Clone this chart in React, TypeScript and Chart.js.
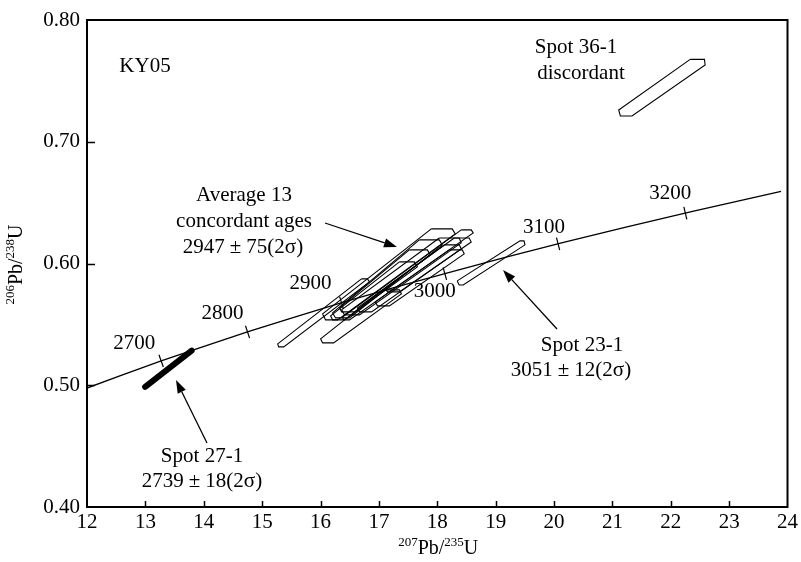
import React, { useEffect, useRef } from "react";
import { Chart, registerables } from "chart.js";

Chart.register(...registerables);

// ---- Data ----
// Concordia curve (207Pb/235U, 206Pb/238U)
const concordiaX = [12.0, 12.597, 13.283, 14.005, 14.761, 15.557, 16.393, 17.271, 18.194, 19.163, 20.181, 21.25, 22.373, 23.89];
const concordiaY = [0.4977, 0.5084, 0.5202, 0.532, 0.544, 0.556, 0.5682, 0.5803, 0.5926, 0.605, 0.6175, 0.6301, 0.6428, 0.6592];

// Age marks on the concordia
const ageLabels = ["2700", "2800", "2900", "3000", "3100", "3200"];
const ageTickX = [13.27, 14.75, 16.36, 18.13, 20.07, 22.25];
const ageTickY = [0.52, 0.5438, 0.5677, 0.5917, 0.6161, 0.6414];

// Error ellipses (outline vertices, x = 207Pb/235U, y = 206Pb/238U)
const spot36 = [[22.333, 0.7677], [22.577, 0.7677], [22.589, 0.7631], [21.336, 0.7212], [21.137, 0.7212], [21.108, 0.7261]];
const spot23 = [[18.342, 0.5857], [18.376, 0.5824], [18.444, 0.5824], [19.503, 0.6153], [19.486, 0.6186], [19.418, 0.6186]];
const spot27 = [[12.996, 0.4987], [13.793, 0.5285]];

const cluster1 = [[17.898, 0.6284], [18.257, 0.6284], [18.308, 0.6243], [16.292, 0.5537], [16.087, 0.5537], [16.036, 0.5586]];
const cluster2 = [[18.411, 0.6276], [18.582, 0.6276], [18.616, 0.6251], [16.497, 0.5537], [16.395, 0.5537], [16.378, 0.5561]];
const cluster3 = [[17.061, 0.5783], [17.352, 0.5783], [17.386, 0.575], [16.224, 0.5348], [16.036, 0.5348], [16.002, 0.5381]];
const cluster4 = [[16.702, 0.5874], [16.805, 0.5874], [16.839, 0.5849], [15.37, 0.5315], [15.284, 0.5315], [15.267, 0.534]];
const cluster5 = [[17.693, 0.6194], [18.035, 0.6194], [18.086, 0.6153], [16.497, 0.5553], [16.258, 0.5553], [16.207, 0.5594]];
const cluster6 = [[18.035, 0.621], [18.377, 0.621], [18.411, 0.6169], [16.668, 0.5578], [16.412, 0.5578], [16.361, 0.5619]];
const cluster7 = [[17.352, 0.6013], [17.607, 0.6013], [17.659, 0.5972], [16.412, 0.5537], [16.207, 0.5537], [16.173, 0.557]];
const cluster8 = [[18.12, 0.6153], [18.377, 0.6153], [18.411, 0.612], [16.873, 0.5603], [16.668, 0.5603], [16.634, 0.5635]];
const cluster9 = [[17.522, 0.6112], [17.83, 0.6112], [17.881, 0.6071], [16.583, 0.5603], [16.361, 0.5603], [16.327, 0.5635]];
const cluster10 = [[18.206, 0.6112], [18.428, 0.6112], [18.462, 0.6079], [17.18, 0.5652], [16.975, 0.5652], [16.941, 0.5685]];
const cluster11 = [[18.291, 0.621], [18.547, 0.621], [18.582, 0.6177], [17.352, 0.5767], [17.146, 0.5767], [17.112, 0.58]];
const clusterShapes = [cluster1, cluster2, cluster3, cluster4, cluster5, cluster6, cluster7, cluster8, cluster9, cluster10, cluster11];

const xTicksMin = 12;
const xTicksMax = 24;
const yTicksMin = 0.4;
const yTicksMax = 0.8;

const xTitleParts: [string, boolean][] = [["207", true], ["Pb/", false], ["235", true], ["U", false]];
const yTitleParts: [string, boolean][] = [["206", true], ["Pb/", false], ["238", true], ["U", false]];

const FONT = "'Liberation Serif', 'Times New Roman', serif";

const toPoints = (poly: number[][], close: boolean) => {
  const pts = poly.map(([x, y]) => ({ x, y }));
  if (close) pts.push({ ...pts[0] });
  return pts;
};

// draws a title with superscript mass numbers, centred at (0,0) of the current transform
const drawIsotopeTitle = (ctx: CanvasRenderingContext2D, parts: [string, boolean][]) => {
  const big = `20px ${FONT}`;
  const small = `13px ${FONT}`;
  let total = 0;
  const widths = parts.map(([t, sup]) => {
    ctx.font = sup ? small : big;
    const w = ctx.measureText(t).width;
    total += w;
    return w;
  });
  let x = -total / 2;
  ctx.textAlign = "left";
  ctx.textBaseline = "alphabetic";
  parts.forEach(([t, sup], i) => {
    ctx.font = sup ? small : big;
    ctx.fillText(t, x, sup ? -1 : 7);
    x += widths[i];
  });
};

// draws "a±b" with a little extra room round the ± sign, centred at (cx, cy)
const drawPlusMinus = (ctx: CanvasRenderingContext2D, text: string, cx: number, cy: number) => {
  const idx = text.indexOf("\u00B1");
  if (idx < 0) {
    ctx.textAlign = "center";
    ctx.fillText(text, cx, cy);
    return;
  }
  const a = text.slice(0, idx);
  const b = text.slice(idx + 1);
  const gap = 5;
  const wa = ctx.measureText(a).width;
  const wp = ctx.measureText("\u00B1").width;
  const wb = ctx.measureText(b).width;
  const total = wa + wp + wb + 2 * gap;
  let x = cx - total / 2;
  ctx.textAlign = "left";
  ctx.fillText(a, x, cy);
  x += wa + gap;
  ctx.fillText("\u00B1", x, cy);
  x += wp + gap;
  ctx.fillText(b, x, cy);
  ctx.textAlign = "center";
};

const annotationPlugin = {
  id: "concordiaAnnotations",
  afterDatasetsDraw(chart: any) {
    const { ctx, chartArea: a, scales } = chart;
    const xs = scales.x;
    const ys = scales.y;
    ctx.save();

    // frame
    ctx.strokeStyle = "#000";
    ctx.lineWidth = 2;
    ctx.strokeRect(a.left, a.top, a.right - a.left, a.bottom - a.top);

    // inward axis ticks
    ctx.lineWidth = 1.5;
    ctx.beginPath();
    xs.ticks.forEach((t: any) => {
      if (t.value <= xTicksMin || t.value >= xTicksMax) return;
      const px = Math.round(xs.getPixelForValue(t.value)) + 0.5;
      ctx.moveTo(px, a.bottom);
      ctx.lineTo(px, a.bottom - 6);
    });
    ys.ticks.forEach((t: any) => {
      if (t.value <= yTicksMin + 1e-9 || t.value >= yTicksMax - 1e-9) return;
      const py = Math.round(ys.getPixelForValue(t.value)) + 0.5;
      ctx.moveTo(a.left, py);
      ctx.lineTo(a.left + 8, py);
    });
    ctx.stroke();

    ctx.fillStyle = "#000";

    // axis titles
    ctx.save();
    ctx.translate((a.left + a.right) / 2 + 1, a.bottom + 40);
    drawIsotopeTitle(ctx, xTitleParts);
    ctx.restore();
    ctx.save();
    ctx.translate(15, (a.top + a.bottom) / 2 + 1);
    ctx.rotate(-Math.PI / 2);
    drawIsotopeTitle(ctx, yTitleParts);
    ctx.restore();

    // age ticks on the concordia
    const labelOffsets = [[-27, -17], [-25, -18], [-31, -19], [-10, 18], [-14, -16], [-15, -20]];
    ctx.lineWidth = 1.2;
    ctx.font = `21px ${FONT}`;
    ctx.textAlign = "center";
    ctx.textBaseline = "middle";
    ageLabels.forEach((lab, i) => {
      const xv = ageTickX[i];
      let k = 0;
      while (k < concordiaX.length - 2 && concordiaX[k + 1] < xv) k++;
      const x0 = xs.getPixelForValue(concordiaX[k]);
      const y0 = ys.getPixelForValue(concordiaY[k]);
      const x1 = xs.getPixelForValue(concordiaX[k + 1]);
      const y1 = ys.getPixelForValue(concordiaY[k + 1]);
      const len = Math.hypot(x1 - x0, y1 - y0);
      const nx = -(y1 - y0) / len;
      const ny = (x1 - x0) / len;
      const px = xs.getPixelForValue(xv);
      const py = ys.getPixelForValue(ageTickY[i]);
      ctx.beginPath();
      ctx.moveTo(px - nx * 6.5, py - ny * 6.5);
      ctx.lineTo(px + nx * 6.5, py + ny * 6.5);
      ctx.stroke();
      ctx.fillText(lab, px + labelOffsets[i][0], py + labelOffsets[i][1]);
    });

    // text labels
    const texts: [string, number, number][] = [
      ["KY05", 145, 66],
      ["Average 13", 244, 195],
      ["concordant ages", 244, 221],
      ["2947\u00B175(2\u03C3)", 243, 247],
      ["Spot 27-1", 202, 456],
      ["2739\u00B118(2\u03C3)", 202, 481],
      ["Spot 23-1", 582, 345],
      ["3051\u00B112(2\u03C3)", 571, 370],
      ["Spot 36-1", 576, 47],
      ["discordant", 581, 73],
    ];
    texts.forEach(([t, x, y]) => drawPlusMinus(ctx, t, x, y));

    // arrows
    const arrows = [
      [325, 223, 397, 247],
      [207, 443, 176, 380],
      [557, 329, 503, 270],
    ];
    ctx.lineWidth = 1.3;
    arrows.forEach(([x0, y0, x1, y1]) => {
      const ang = Math.atan2(y1 - y0, x1 - x0);
      const hl = 13;
      const hw = 4.5;
      const bx = x1 - Math.cos(ang) * hl;
      const by = y1 - Math.sin(ang) * hl;
      ctx.beginPath();
      ctx.moveTo(x0, y0);
      ctx.lineTo(bx, by);
      ctx.stroke();
      ctx.beginPath();
      ctx.moveTo(x1, y1);
      ctx.lineTo(bx + Math.sin(ang) * hw, by - Math.cos(ang) * hw);
      ctx.lineTo(bx - Math.sin(ang) * hw, by + Math.cos(ang) * hw);
      ctx.closePath();
      ctx.fill();
    });

    ctx.restore();
  },
};

export default function App() {
  const canvasRef = useRef<HTMLCanvasElement | null>(null);

  useEffect(() => {
    if (!canvasRef.current) return;
    const outline = (poly: number[][], label: string) => ({
      label,
      data: toPoints(poly, true),
      showLine: true,
      borderColor: "#000",
      borderWidth: 1.1,
      pointRadius: 0,
      fill: false,
      tension: 0,
    });
    const datasets: any[] = [
      {
        label: "Concordia",
        data: concordiaX.map((x, i) => ({ x, y: concordiaY[i] })),
        showLine: true,
        borderColor: "#000",
        borderWidth: 1.3,
        pointRadius: 0,
        fill: false,
        tension: 0,
      },
      outline(spot36, "Spot 36-1"),
      outline(spot23, "Spot 23-1"),
      {
        label: "Spot 27-1",
        data: toPoints(spot27, false),
        showLine: true,
        borderColor: "#000",
        borderWidth: 6,
        borderCapStyle: "round",
        pointRadius: 0,
        fill: false,
      },
      ...clusterShapes.map((s, i) => outline(s, `Concordant ${i + 1}`)),
    ];

    const chart = new Chart(canvasRef.current, {
      type: "scatter",
      data: { datasets },
      options: {
        animation: false,
        responsive: false,
        devicePixelRatio: 1,
        layout: { padding: { top: 20, right: 12, left: 0, bottom: 0 } },
        plugins: { legend: { display: false }, tooltip: { enabled: false } },
        scales: {
          x: {
            type: "linear",
            min: xTicksMin,
            max: xTicksMax,
            ticks: { stepSize: 1, color: "#000", font: { family: FONT, size: 21 }, padding: 3 },
            grid: { display: false, drawTicks: false },
            border: { display: false },
            afterFit: (s: any) => {
              s.height = 55;
            },
          },
          y: {
            type: "linear",
            min: yTicksMin,
            max: yTicksMax,
            ticks: {
              stepSize: 0.1,
              color: "#000",
              font: { family: FONT, size: 21 },
              padding: 7,
              callback: (v: any) => Number(v).toFixed(2),
            },
            grid: { display: false, drawTicks: false },
            border: { display: false },
            afterFit: (s: any) => {
              s.width = 87;
            },
          },
        },
      },
      plugins: [annotationPlugin],
    });
    return () => chart.destroy();
  }, []);

  return (
    <div style={{ position: "absolute", left: 0, top: 0, width: 801, height: 562, background: "#fff" }}>
      <canvas ref={canvasRef} width={801} height={562} />
    </div>
  );
}
